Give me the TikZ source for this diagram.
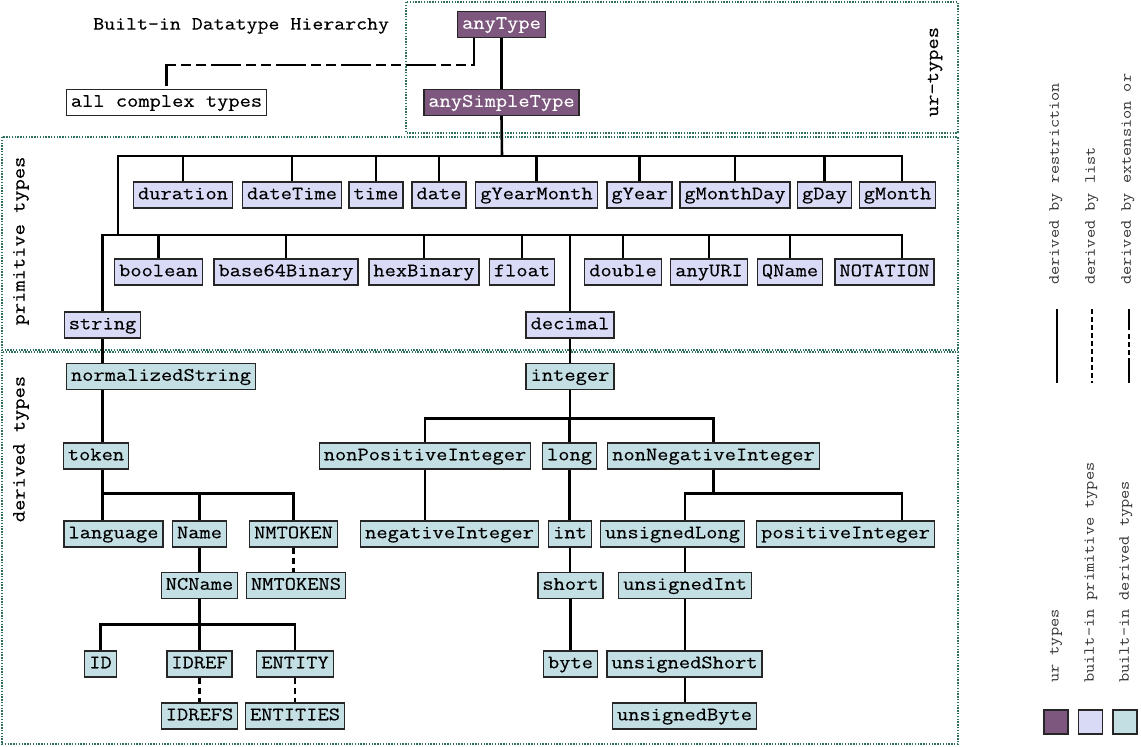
\documentclass[tikz,border=0pt]{standalone}
\usepackage{fontspec}
\newfontfamily\courfont[FakeStretch=1.15, FakeBold=0.3]{Latin Modern Mono}
\newfontfamily\legendfont[FakeStretch=1.15]{Latin Modern Mono}
\usetikzlibrary{calc}

\definecolor{urfill}{HTML}{7D577D}
\definecolor{primfill}{HTML}{D9DBF6}
\definecolor{derfill}{HTML}{C4DFE4}
\definecolor{regiongreen}{HTML}{2F6F5F}

\tikzset{
    typebox/.style={draw=black!85, line width=1.4pt, inner xsep=4.5pt, inner ysep=0pt,
        minimum height=26pt, text height=13pt, text depth=4.5pt,
        font=\courfont\fontsize{19}{19}\selectfont},
    urbox/.style={typebox, fill=urfill, text=white},
    primbox/.style={typebox, fill=primfill},
    derbox/.style={typebox, fill=derfill},
    restr/.style={line width=2.6pt},
    listline/.style={line width=2.6pt, dash pattern=on 6pt off 4pt},
    extline/.style={line width=2.6pt, dash pattern=on 30pt off 5pt on 10pt off 5pt on 10pt off 5pt},
    region/.style={draw=regiongreen, line width=1.4pt, dash pattern=on 1.4pt off 1.4pt},
    regionlabel/.style={rotate=90, inner sep=0pt, font=\courfont\fontsize{19}{19}\selectfont},
    legendtext/.style={rotate=90, anchor=west, inner sep=0pt, text=black!80,
        font=\legendfont\fontsize{15.5}{15.5}\selectfont},
}

\begin{document}
\begin{tikzpicture}[x=1pt, y=-1pt]
    \useasboundingbox[fill=white] (0,0) rectangle (1141,747);

    % regions
    \draw[region] (406,2) rectangle (958,133);
    \draw[region] (2,137) rectangle (958,350);
    \draw[region] (2,352) rectangle (958,744);

    \node[anchor=west, inner sep=0pt, font=\courfont\fontsize{18.5}{18.5}\selectfont] (title) at (93,26) {Built-in Datatype Hierarchy};
    \node[regionlabel] (urlabel) at (935,72) {ur-types};
    \node[regionlabel] (primlabel) at (21,241) {primitive types};
    \node[regionlabel] (derlabel) at (21,449) {derived types};

    % ur types
    \node[urbox] (anyType) at (501.5,24.5) {anyType};
    \node[urbox] (anySimpleType) at (501.5,102.5) {anySimpleType};
    \node[typebox, fill=white] (complex) at (166.5,102.5) {all complex types};

    % primitive types
    \foreach \t/\x in {duration/183, dateTime/292, time/376, date/439, gYearMonth/536.5,
        gYear/639.5, gMonthDay/735, gDay/824.5, gMonth/897.5}
        \node[primbox] (\t) at (\x,195) {\t};
    \foreach \t/\x in {boolean/158.5, base64Binary/286, hexBinary/424, float/522,
        double/623, anyURI/709, QName/790, NOTATION/884.5}
        \node[primbox] (\t) at (\x,272) {\t};
    \node[primbox] (string) at (102.5,325) {string};
    \node[primbox] (decimal) at (570,325) {decimal};

    % derived types
    \node[derbox] (normalizedString) at (161,376.5) {normalizedString};
    \node[derbox] (integer) at (570,376.5) {integer};
    \foreach \t/\x in {token/96, nonPositiveInteger/425, long/569.5, nonNegativeInteger/713.5}
        \node[derbox] (\t) at (\x,456) {\t};
    \foreach \t/\x in {language/113.5, Name/199.5, NMTOKEN/293.5, negativeInteger/449.5,
        int/570, unsignedLong/672.5, positiveInteger/845.5}
        \node[derbox] (\t) at (\x,534) {\t};
    \foreach \t/\x in {NCName/199.5, NMTOKENS/296, short/570.5, unsignedInt/685}
        \node[derbox] (\t) at (\x,585.5) {\t};
    \foreach \t/\x in {ID/100.5, IDREF/199.5, ENTITY/295, byte/570.5, unsignedShort/684.5}
        \node[derbox] (\t) at (\x,664) {\t};
    \foreach \t/\x in {IDREFS/199.5, ENTITIES/295, unsignedByte/684.5}
        \node[derbox] (\t) at (\x,716) {\t};

    \coordinate (rcol) at (902,0);
    \coordinate (xbend) at (474,65);
    \coordinate (b1) at (502,156);
    \coordinate (b2) at (118,235);

    % connectors
    \draw[restr] (anyType.south) -- (anySimpleType.north);
    \draw[extline] (anyType.south -| xbend) -- (xbend) -| (complex.north);
    \draw[restr] (anySimpleType.south) -- (b1);
    \foreach \t in {duration, dateTime, time, date, gYearMonth, gYear, gMonthDay, gDay}
        \draw[restr] (b1) -| (\t.north);
    \draw[restr] (b1) -| (rcol |- gMonth.north);
    \draw[restr] (b1) -| (b2);
    \foreach \t in {string, boolean, base64Binary, hexBinary, float, decimal, double, anyURI, QName}
        \draw[restr] (b2) -| (\t.north);
    \draw[restr] (b2) -| (rcol |- NOTATION.north);

    \draw[restr] (string.south) -- (string.south |- normalizedString.north);
    \draw[restr] (normalizedString.south -| string) -- (token.north -| string);
    \draw[restr] (token.south -| string) -- (language.north -| string);
    \path (token.south -| string) ++(0,24) coordinate (tbar);
    \draw[restr] (tbar) -| (Name.north);
    \draw[restr] (tbar) -| (NMTOKEN.north);
    \draw[listline] (NMTOKEN.south) -- (NMTOKEN.south |- NMTOKENS.north);
    \draw[restr] (Name.south) -- (NCName.north);
    \path (NCName.south) ++(0,25) coordinate (nbar);
    \draw[restr] (NCName.south) -- (nbar);
    \foreach \t in {ID, IDREF, ENTITY}
        \draw[restr] (nbar) -| (\t.north);
    \draw[listline] (IDREF.south) -- (IDREFS.north);
    \draw[listline] (ENTITY.south) -- (ENTITIES.north);

    \draw[restr] (decimal.south) -- (integer.north);
    \path (integer.south) ++(0,28) coordinate (ibar);
    \draw[restr] (integer.south) -- (ibar);
    \foreach \t in {nonPositiveInteger, long, nonNegativeInteger}
        \draw[restr] (ibar) -| (\t.north);
    \draw[restr] (nonPositiveInteger.south) -- (nonPositiveInteger.south |- negativeInteger.north);
    \draw[restr] (long.south) -- (long.south |- int.north);
    \draw[restr] (int.south) -- (int.south |- short.north);
    \draw[restr] (short.south) -- (short.south |- byte.north);
    \path (nonNegativeInteger.south) ++(0,24) coordinate (nnbar);
    \draw[restr] (nonNegativeInteger.south) -- (nnbar);
    \draw[restr] (nnbar) -| (unsignedInt |- unsignedLong.north);
    \draw[restr] (nnbar) -| (rcol |- positiveInteger.north);
    \draw[restr] (unsignedInt |- unsignedLong.south) -- (unsignedInt.north);
    \draw[restr] (unsignedInt.south) -- (unsignedInt.south |- unsignedShort.north);
    \draw[restr] (unsignedInt.south |- unsignedShort.south) -- (unsignedInt.south |- unsignedByte.north);

    % legend
    \node[legendtext] (lrestr) at (1056,285) {derived by restriction};
    \node[legendtext] (llist) at (1092,285) {derived by list};
    \node[legendtext] (lext) at (1128,285) {derived by extension or};
    \draw[line width=2.2pt] (1057,309) -- (1057,383);
    \draw[line width=2.2pt, dash pattern=on 5pt off 3pt] (1092,309) -- (1092,383);
    \draw[line width=2.2pt, dash pattern=on 21pt off 4pt on 5pt off 3pt on 5pt off 3pt on 5pt off 3pt on 40pt off 4pt] (1129,309) -- (1129,383);
    \node[legendtext] (lur) at (1056,683) {ur types};
    \node[legendtext] (lprim) at (1091,683) {built-in primitive types};
    \node[legendtext] (lder) at (1126,683) {built-in derived types};
    \node[draw=black!85, line width=1.4pt, fill=urfill, minimum size=24pt, inner sep=0pt] (swur) at (1056,722) {};
    \node[draw=black!85, line width=1.4pt, fill=primfill, minimum size=24pt, inner sep=0pt] (swprim) at (1090.5,722) {};
    \node[draw=black!85, line width=1.4pt, fill=derfill, minimum size=24pt, inner sep=0pt] (swder) at (1125,722) {};
\end{tikzpicture}
\end{document}
